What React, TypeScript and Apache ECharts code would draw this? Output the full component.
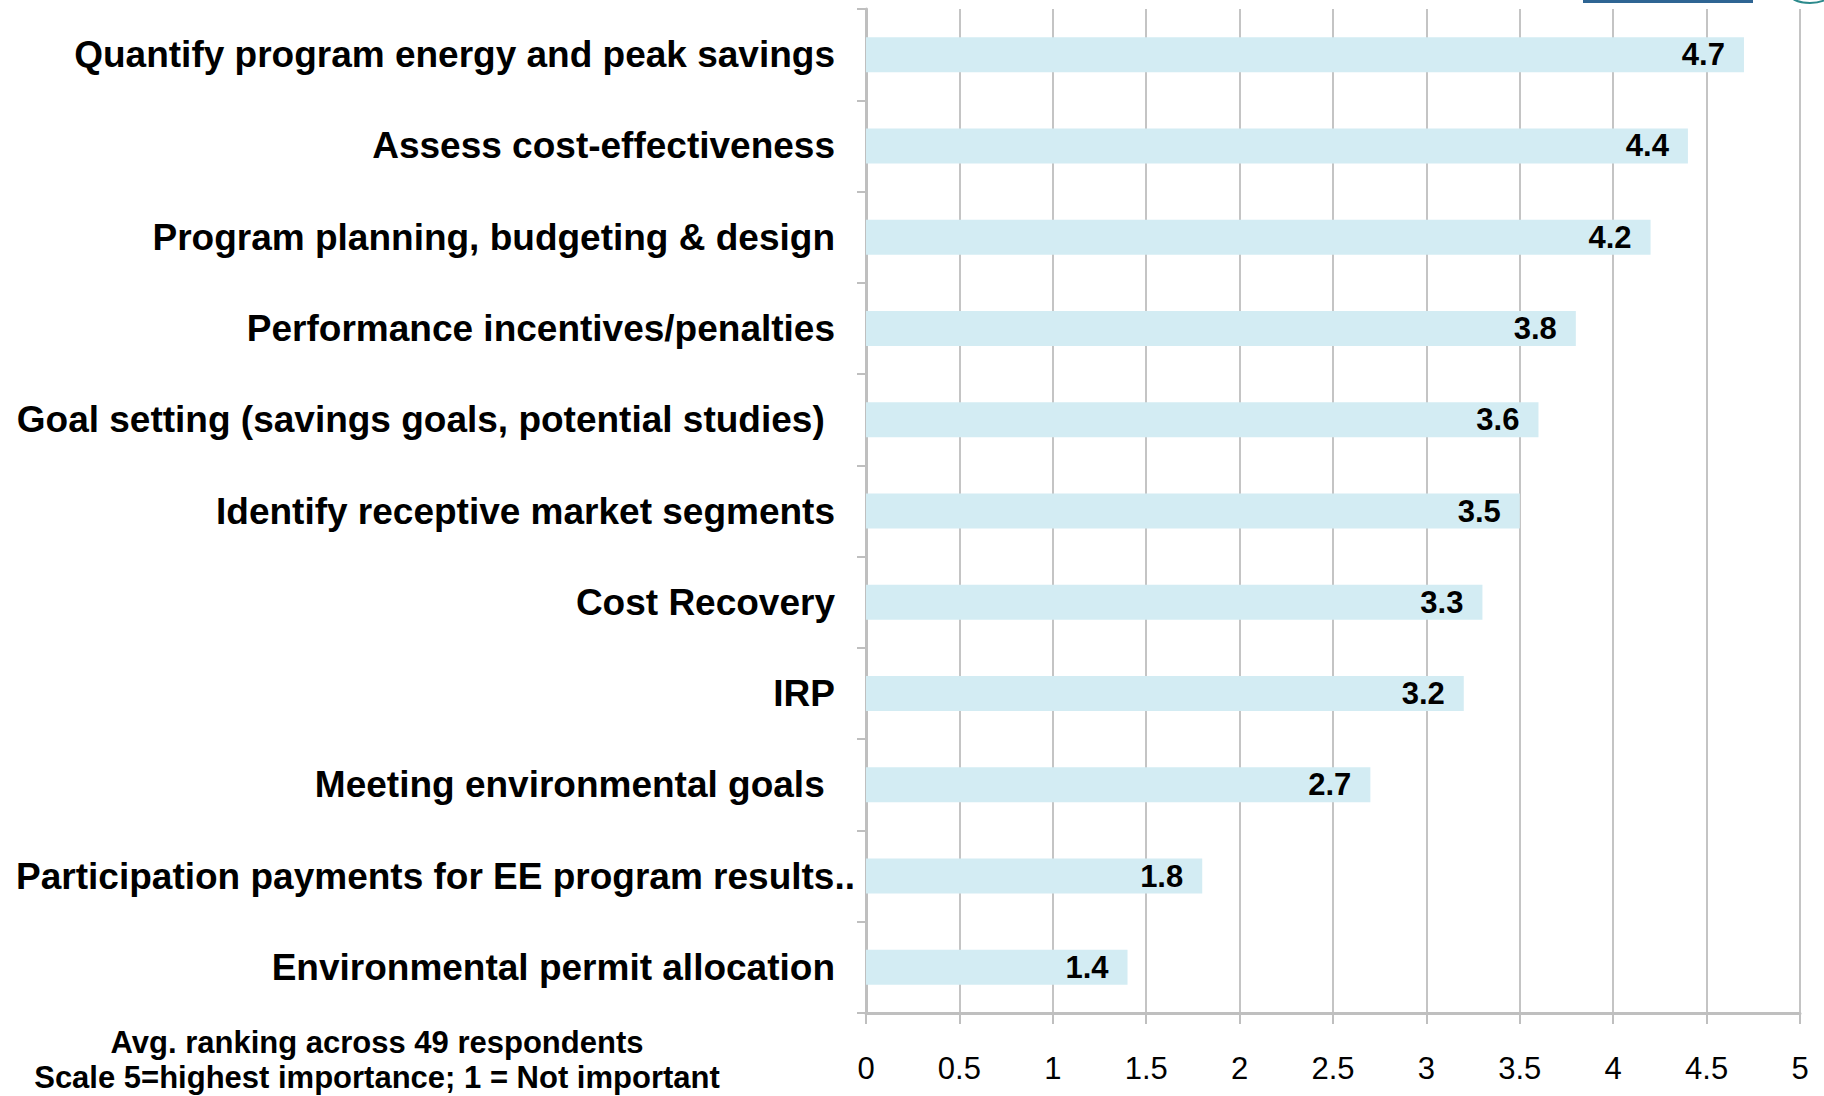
import React, { useEffect, useRef } from "react";
import * as echarts from "echarts";

const categories = [
  "Quantify program energy and peak savings",
  "Assess cost-effectiveness",
  "Program planning, budgeting & design",
  "Performance incentives/penalties",
  "Goal setting (savings goals, potential studies) ",
  "Identify receptive market segments",
  "Cost Recovery",
  "IRP",
  "Meeting environmental goals ",
  "Participation payments for EE program results..",
  "Environmental permit allocation",
];
const values = [4.7, 4.4, 4.2, 3.8, 3.6, 3.5, 3.3, 3.2, 2.7, 1.8, 1.4];
const footnoteLines = [
  "Avg. ranking across 49 respondents",
  "Scale 5=highest importance; 1 = Not important",
];
const overflowLabel = "Participation payments for EE program results..";

export default function App() {
  const ref = useRef<HTMLDivElement>(null);
  useEffect(() => {
    if (!ref.current) return;
    const chart = echarts.init(ref.current, null, { renderer: "svg" });
    const font = '"Liberation Sans", Arial, sans-serif';
    const footStyle = {
      align: "center",
      verticalAlign: "middle",
      fontFamily: font,
      fontSize: 31,
      fontWeight: "bold",
      fill: "#000000",
    };
    chart.setOption({
      animation: false,
      backgroundColor: "#ffffff",
      grid: {
        left: 866,
        right: 24,
        top: 9,
        bottom: 83,
        containLabel: false,
        outerBoundsMode: "none",
      },
      xAxis: {
        type: "value",
        min: 0,
        max: 5,
        interval: 0.5,
        axisLine: { show: true, lineStyle: { color: "#BFBFBF", width: 3 } },
        axisTick: { show: true, length: 11, lineStyle: { color: "#BFBFBF", width: 2 } },
        splitLine: { show: true, lineStyle: { color: "#C4C4C4", width: 2 } },
        axisLabel: {
          margin: 40,
          fontFamily: font,
          fontSize: 31,
          color: "#000000",
        },
      },
      yAxis: {
        type: "category",
        inverse: true,
        data: categories,
        axisLine: { show: true, lineStyle: { color: "#BFBFBF", width: 3 } },
        axisTick: { show: true, length: 9, lineStyle: { color: "#BFBFBF", width: 2 } },
        axisLabel: {
          margin: 31,
          fontFamily: font,
          fontSize: 37,
          fontWeight: "bold",
          color: "#000000",
          formatter: (v: string) => (v === overflowLabel ? `{o|${v}}` : v),
          rich: {
            o: {
              fontFamily: font,
              fontSize: 37,
              fontWeight: "bold",
              color: "#000000",
              padding: [0, -20, 0, 0],
            },
          },
        },
      },
      series: [
        {
          type: "bar",
          data: values,
          barWidth: 35,
          itemStyle: { color: "#D3ECF3" },
          label: {
            show: true,
            position: "insideRight",
            distance: 19,
            fontFamily: font,
            fontSize: 31,
            fontWeight: "bold",
            color: "#000000",
            formatter: (p: any) => p.value.toFixed(1),
          },
        },
      ],
      graphic: [
        { type: "text", x: 377, y: 1042, style: { ...footStyle, text: footnoteLines[0] } },
        { type: "text", x: 377, y: 1077, style: { ...footStyle, text: footnoteLines[1] } },
        {
          type: "rect",
          shape: { x: 1583, y: 0, width: 170, height: 3 },
          style: { fill: "#2E6593" },
        },
        {
          type: "ellipse",
          shape: { cx: 1810, cy: -8, rx: 22, ry: 11 },
          style: { fill: "none", stroke: "#2C8A8C", lineWidth: 2 },
        },
      ],
    });
    return () => chart.dispose();
  }, []);
  return (
    <div
      ref={ref}
      style={{ position: "fixed", left: 0, top: 0, width: 1824, height: 1096 }}
    />
  );
}
